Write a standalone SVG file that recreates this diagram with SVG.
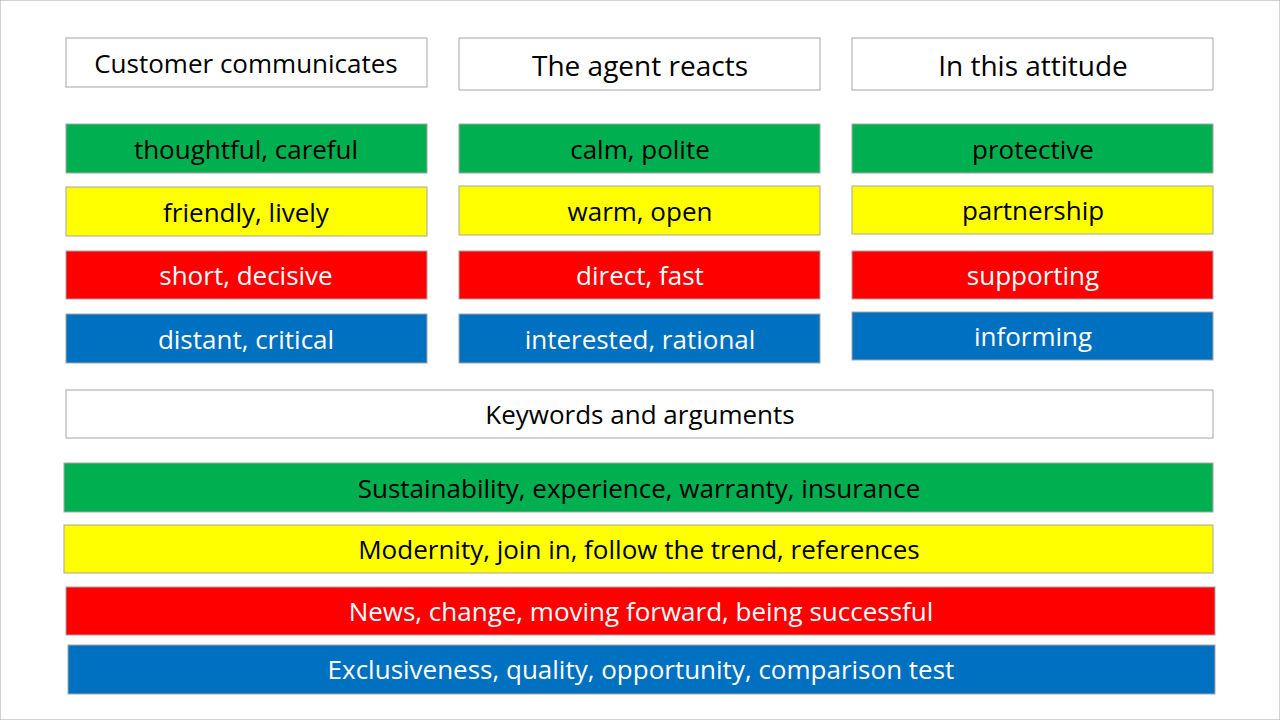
<svg xmlns="http://www.w3.org/2000/svg" width="1280" height="720" viewBox="0 0 1280 720">
<style>
rect{stroke:#a6a6a6;stroke-width:1}
.w{fill:#fff}.g{fill:#00B050}.y{fill:#FFFF00}.r{fill:#FF0000}.b{fill:#0070C0}
text{font-family:"Open Sans","Liberation Sans",sans-serif;font-size:26px;text-anchor:middle;dominant-baseline:central}
.d{fill:#000}.l{fill:#fff}
</style>
<rect width="1280" height="720" fill="#fff" stroke="none"/>
<g id="col1">
<g id="h1"><rect class="w" x="66" y="38" width="361" height="49"/><text class="d" x="246" y="63">Customer communicates</text></g>
<g id="c1g"><rect class="g" x="66" y="124" width="361" height="49"/><text class="d" x="246" y="149">thoughtful, careful</text></g>
<g id="c1y"><rect class="y" x="66" y="187" width="361" height="49"/><text class="d" x="246" y="212">friendly, lively</text></g>
<g id="c1r"><rect class="r" x="66" y="251" width="361" height="48"/><text class="l" x="246" y="275">short, decisive</text></g>
<g id="c1b"><rect class="b" x="66" y="314" width="361" height="49"/><text class="l" x="246" y="339">distant, critical</text></g>
</g>
<g id="col2">
<g id="h2"><rect class="w" x="459" y="38" width="361" height="52"/><text class="d" x="640" y="65" style="font-size:28px">The agent reacts</text></g>
<g id="c2g"><rect class="g" x="459" y="124" width="361" height="49"/><text class="d" x="640" y="149">calm, polite</text></g>
<g id="c2y"><rect class="y" x="459" y="186" width="361" height="49"/><text class="d" x="640" y="211">warm, open</text></g>
<g id="c2r"><rect class="r" x="459" y="251" width="361" height="48"/><text class="l" x="640" y="275">direct, fast</text></g>
<g id="c2b"><rect class="b" x="459" y="314" width="361" height="49"/><text class="l" x="640" y="339">interested, rational</text></g>
</g>
<g id="col3">
<g id="h3"><rect class="w" x="852" y="38" width="361" height="52"/><text class="d" x="1033" y="65" style="font-size:28px">In this attitude</text></g>
<g id="c3g"><rect class="g" x="852" y="124" width="361" height="49"/><text class="d" x="1033" y="149">protective</text></g>
<g id="c3y"><rect class="y" x="852" y="186" width="361" height="48"/><text class="d" x="1033" y="210">partnership</text></g>
<g id="c3r"><rect class="r" x="852" y="251" width="361" height="48"/><text class="l" x="1033" y="275">supporting</text></g>
<g id="c3b"><rect class="b" x="852" y="312" width="361" height="48"/><text class="l" x="1033" y="336">informing</text></g>
</g>
<g id="keywords">
<g id="kh"><rect class="w" x="66" y="390" width="1147" height="48"/><text class="d" x="640" y="414">Keywords and arguments</text></g>
<g id="kg"><rect class="g" x="64" y="463" width="1149" height="49"/><text class="d" x="639" y="488">Sustainability, experience, warranty, insurance</text></g>
<g id="ky"><rect class="y" x="64" y="525" width="1149" height="48"/><text class="d" x="639" y="549">Modernity, join in, follow the trend, references</text></g>
<g id="kr"><rect class="r" x="66" y="587" width="1149" height="48"/><text class="l" x="641" y="611">News, change, moving forward, being successful</text></g>
<g id="kb"><rect class="b" x="68" y="645" width="1147" height="49"/><text class="l" x="641" y="669">Exclusiveness, quality, opportunity, comparison test</text></g>
</g>
<g id="connectors"/>
</svg>
